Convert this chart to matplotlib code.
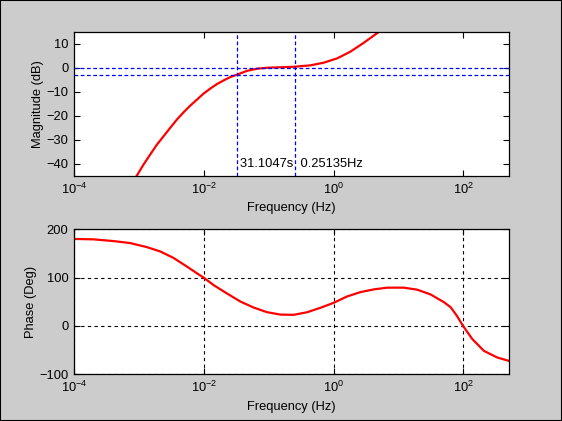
import numpy as np
import matplotlib
matplotlib.use("Agg")
import matplotlib.pyplot as plt
from matplotlib.ticker import NullLocator
from matplotlib.patches import Rectangle

# values (log10 of frequency in Hz)
mag_logf = [-3.2, -3.033, -2.930, -2.827, -2.724, -2.622, -2.519, -2.415, -2.313,
            -2.210, -2.106, -2.005, -1.901, -1.798, -1.696, -1.593, -1.500,
            -1.335, -1.180, -1.026, -0.820, -0.616, -0.358, -0.153, 0.054,
            0.259, 0.465, 0.696, 0.85]
mag_db = [-51.0, -44.9, -40.3, -36.1, -32.0, -28.5, -25.0, -21.5, -18.5,
          -15.7, -13.2, -10.7, -8.6, -6.7, -5.2, -3.8, -2.9,
          -1.2, -0.3, 0.1, 0.3, 0.5, 1.1, 2.2, 4.0,
          6.8, 10.5, 15.0, 18.5]

phase_logf = [-4.0, -3.702, -3.394, -3.136, -2.878, -2.673, -2.468, -2.261, -2.106,
              -1.994, -1.850, -1.644, -1.438, -1.233, -1.027, -0.821, -0.616, -0.409,
              -0.204, 0.002, 0.208, 0.414, 0.619, 0.826, 1.082, 1.289, 1.494,
              1.700, 1.803, 1.900, 1.992, 2.137, 2.316, 2.523, 2.703]
phase_deg = [180.0, 179.2, 175.6, 171.5, 163.1, 154.2, 140.8, 122.9, 109.0,
             99.2, 84.6, 67.3, 50.6, 38.1, 28.5, 23.5, 23.0, 28.3,
             37.5, 47.9, 61.0, 70.0, 75.6, 79.2, 79.2, 75.0, 65.2,
             49.2, 38.8, 21.0, 0.6, -27.0, -51.5, -65.4, -72.3]

time_const = 31.1047   # s
f_cut = 0.25135        # Hz
f_max = 500.0

plt.rcParams['font.family'] = ['Liberation Sans', 'DejaVu Sans']
plt.rcParams['font.size'] = 9.3
plt.rcParams['mathtext.default'] = 'regular'

fig = plt.figure(figsize=(5.62, 4.21), dpi=100, facecolor='#cccccc')
fig.patches.append(Rectangle((0, 0), 1, 1, transform=fig.transFigure,
                             fill=False, edgecolor='black', linewidth=1.5))

ax1 = fig.add_axes([0.1317, 0.582, 0.7735, 0.342])
ax2 = fig.add_axes([0.1317, 0.111, 0.7735, 0.3444])

f_mag = 10.0 ** np.array(mag_logf)
f_ph = 10.0 ** np.array(phase_logf)

ax1.semilogx(f_mag, mag_db, color='#ff0000', linewidth=1.6)
ax1.axhline(0, color='#0000ff', linestyle='--', linewidth=0.9, dashes=(3, 2))
ax1.axhline(-3, color='#0000ff', linestyle='--', linewidth=0.9, dashes=(3, 2))
ax1.axvline(1.0 / time_const, color='#0000ff', linestyle='--', linewidth=0.9, dashes=(3, 2))
ax1.axvline(f_cut, color='#0000ff', linestyle='--', linewidth=0.9, dashes=(3, 2))
ax1.text(1.0 / time_const * 1.12, -40, '%gs  %gHz' % (time_const, f_cut),
         ha='left', va='center')
ax1.set_xlim(1e-4, f_max)
ax1.set_ylim(-45, 15)
ax1.set_yticks([-40, -30, -20, -10, 0, 10])
ax1.set_xlabel('Frequency (Hz)')
ax1.set_ylabel('Magnitude (dB)', labelpad=1.5)

ax2.semilogx(f_ph, phase_deg, color='#ff0000', linewidth=1.6)
ax2.set_xlim(1e-4, f_max)
ax2.set_ylim(-100, 200)
ax2.set_yticks([-100, 0, 100, 200])
ax2.grid(True, color='black', linestyle='--', linewidth=0.8, dashes=(3, 3))
ax2.set_xlabel('Frequency (Hz)')
ax2.set_ylabel('Phase (Deg)', labelpad=1.5)

for ax in (ax1, ax2):
    ax.set_facecolor('white')
    ax.set_xticks([1e-4, 1e-2, 1e0, 1e2])
    ax.xaxis.set_minor_locator(NullLocator())
    ax.tick_params(direction='in', top=True, right=True, length=4, width=0.8,
                   labelsize=9.3, pad=4)
    for s in ax.spines.values():
        s.set_linewidth(0.9)

fig.savefig('out.png', dpi=100, facecolor=fig.get_facecolor())
